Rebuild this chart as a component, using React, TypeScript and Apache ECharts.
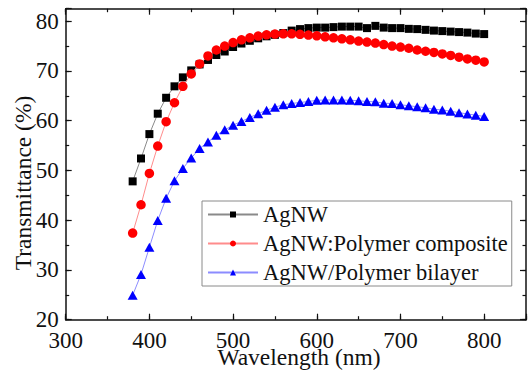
import React, { useEffect, useRef } from "react";
import * as echarts from "echarts";

const wavelengths = [
  380, 390, 400, 410, 420, 430, 440, 450, 460, 470, 480, 490, 500, 510, 520,
  530, 540, 550, 560, 570, 580, 590, 600, 610, 620, 630, 640, 650, 660, 670,
  680, 690, 700, 710, 720, 730, 740, 750, 760, 770, 780, 790, 800,
];

const agnw = [
  47.8, 52.4, 57.3, 61.4, 64.6, 66.9, 68.7, 70.1, 71.3, 72.2, 73.2, 73.9, 74.8, 75.5, 76.05,
  76.55, 76.95, 77.25, 77.6, 78.1, 78.4, 78.6, 78.7, 78.7, 78.8, 78.9, 78.9, 78.9, 78.6, 79.05,
  78.7, 78.6, 78.6, 78.45, 78.4, 78.25, 78.1, 78.0, 77.9, 77.8, 77.7, 77.5, 77.4,
];

const composite = [
  37.4, 43.1, 49.4, 54.9, 59.8, 63.6, 66.9, 69.4, 71.4, 73.0, 74.2, 75.0, 75.7, 76.25, 76.65,
  77.0, 77.25, 77.4, 77.45, 77.45, 77.35, 77.2, 77.05, 76.85, 76.65, 76.45, 76.25, 76.0, 75.8, 75.6,
  75.3, 75.0, 74.8, 74.55, 74.2, 73.95, 73.7, 73.4, 73.1, 72.75, 72.4, 72.15, 71.8,
];

const bilayer = [
  24.9, 29.1, 34.55, 39.95, 44.4, 47.9, 50.4, 52.5, 54.4, 55.7, 57.05, 58.15, 59.1, 59.85, 60.65,
  61.4, 62.1, 62.7, 63.2, 63.45, 63.65, 63.85, 64.1, 64.15, 64.15, 64.15, 64.1, 64.0, 63.85, 63.8,
  63.5, 63.45, 63.2, 63.0, 62.8, 62.6, 62.3, 62.15, 61.9, 61.6, 61.35, 61.1, 60.85,
];

const seriesNames = ["AgNW", "AgNW:Polymer composite", "AgNW/Polymer bilayer"];
const xTitle = "Wavelength (nm)";
const yTitle = "Transmittance (%)";

const FONT = "Liberation Serif";

function pairs(ys: number[]) {
  return wavelengths.map((x, i) => [x, ys[i]]);
}

export default function App() {
  const ref = useRef<HTMLDivElement>(null);

  useEffect(() => {
    if (!ref.current) return;
    const chart = echarts.init(ref.current, null, { renderer: "svg" });

    const axisLine = { show: true, onZero: false, lineStyle: { color: "#111", width: 1.5 } };
    const majorX = (pos: string, labels: boolean) => ({
      type: "value",
      position: pos,
      min: 300,
      max: 850,
      interval: 100,
      axisLine: axisLine,
      axisTick: { show: true, inside: true, length: 6, lineStyle: { color: "#111", width: 1.2 } },
      axisLabel: labels
        ? {
            show: true,
            margin: 12,
            fontFamily: FONT,
            fontSize: 23,
            lineHeight: 17,
            color: "#111",
            formatter: (v: number) => (v % 100 === 0 && v <= 800 ? String(v) : ""),
          }
        : { show: false },
      splitLine: { show: false },
    });
    const minorX = (pos: string) => ({
      type: "value",
      position: pos,
      min: 300,
      max: 850,
      interval: 50,
      axisLine: { show: false, onZero: false },
      axisTick: { show: true, inside: true, length: 3.5, lineStyle: { color: "#111", width: 1.2 } },
      axisLabel: { show: false },
      splitLine: { show: false },
    });
    const majorY = (pos: string, labels: boolean) => ({
      type: "value",
      position: pos,
      min: 20,
      max: 82.5,
      interval: 10,
      axisLine: axisLine,
      axisTick: { show: true, inside: true, length: 6, lineStyle: { color: "#111", width: 1.2 } },
      axisLabel: labels
        ? {
            show: true,
            margin: 7,
            fontFamily: FONT,
            fontSize: 23,
            color: "#111",
            formatter: (v: number) => (v % 10 === 0 ? String(v) : ""),
          }
        : { show: false },
      splitLine: { show: false },
    });
    const minorY = (pos: string) => ({
      type: "value",
      position: pos,
      min: 20,
      max: 82.5,
      interval: 5,
      axisLine: { show: false, onZero: false },
      axisTick: { show: true, inside: true, length: 3.5, lineStyle: { color: "#111", width: 1.2 } },
      axisLabel: { show: false },
      splitLine: { show: false },
    });

    const colors = ["#000000", "#ff0000", "#0000ff"];
    const lineColors = ["#8a8a8a", "#ff8c8c", "#8c8cff"];
    const symbols = ["rect", "circle", "triangle"];
    const sizes: any[] = [8, 9.5, [10, 9]];
    const datas = [agnw, composite, bilayer];

    chart.setOption({
      animation: false,
      backgroundColor: "#ffffff",
      textStyle: { fontFamily: FONT },
      grid: { left: 65.7, top: 8.7, width: 465.3, height: 311, containLabel: false },
      xAxis: [majorX("bottom", true), minorX("bottom"), majorX("top", false), minorX("top")],
      yAxis: [majorY("left", true), minorY("left"), majorY("right", false), minorY("right")],
      legend: {
        show: true,
        orient: "vertical",
        left: 202,
        top: 201,
        padding: [2, 4, 2, 5],
        itemGap: 6,
        itemWidth: 50,
        itemHeight: 7.5,
        backgroundColor: "#ffffff",
        borderColor: "#8a8a8a",
        borderWidth: 1,
        textStyle: { fontFamily: FONT, fontSize: 22.5, color: "#111", lineHeight: 22 },
        data: seriesNames,
      },
      graphic: [
        {
          type: "text",
          x: 299,
          y: 357,
          style: {
            text: xTitle,
            fontFamily: FONT,
            fontSize: 23.5,
            lineHeight: 18,
            fill: "#111",
            textAlign: "center",
            textVerticalAlign: "middle",
          },
        },
        {
          type: "text",
          x: 23,
          y: 183,
          rotation: Math.PI / 2,
          style: {
            text: yTitle,
            fontFamily: FONT,
            fontSize: 23.5,
            fill: "#111",
            textAlign: "center",
            textVerticalAlign: "middle",
          },
        },
      ],
      series: datas.map((d, i) => ({
        name: seriesNames[i],
        type: "line",
        xAxisIndex: 0,
        yAxisIndex: 0,
        data: pairs(d),
        symbol: symbols[i],
        symbolSize: sizes[i],
        showAllSymbol: true,
        itemStyle: { color: colors[i] },
        lineStyle: { color: lineColors[i], width: 1 },
        z: 2 + i,
      })),
    });

    return () => chart.dispose();
  }, []);

  return (
    <div
      ref={ref}
      style={{ position: "absolute", left: 0, top: 0, width: 529, height: 372, background: "#fff" }}
    />
  );
}
